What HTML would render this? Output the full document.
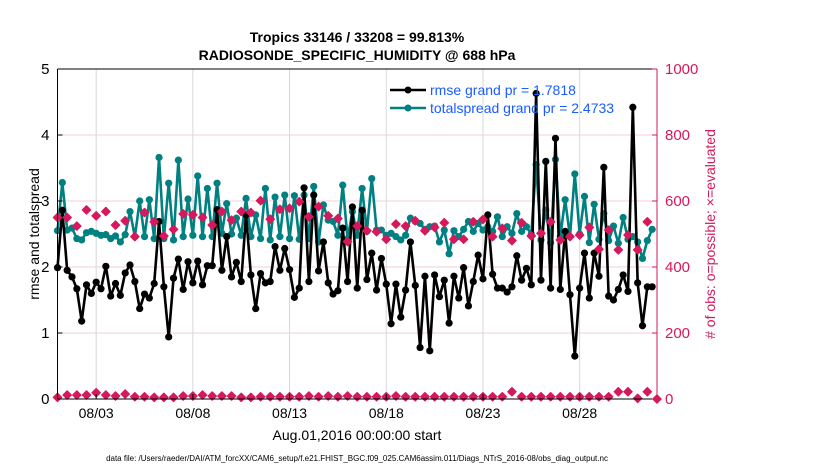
<!DOCTYPE html>
<html><head><meta charset="utf-8"><style>
html,body{margin:0;padding:0;background:#fff;}
svg{display:block;font-family:"Liberation Sans",Arial,sans-serif;}
</style></head><body>
<svg id="chart" width="830" height="470" viewBox="0 0 830 470" xmlns="http://www.w3.org/2000/svg">
<text x="357" y="42" text-anchor="middle" font-size="14" font-weight="bold">Tropics 33146 / 33208 = 99.813%</text>
<text x="357" y="60" text-anchor="middle" font-size="14" font-weight="bold">RADIOSONDE_SPECIFIC_HUMIDITY @ 688 hPa</text>
<g id="grid"></g>
<g id="series"></g>
<g id="axes"></g>
<g>
<line x1="390" y1="90" x2="426" y2="90" stroke="#000" stroke-width="2.5"/><circle cx="408" cy="90" r="3.5" fill="#000"/>
<text x="430" y="95" font-size="14" fill="#1a5cff">rmse grand pr = 1.7818</text>
<line x1="390" y1="108" x2="426" y2="108" stroke="#008080" stroke-width="2.5"/><circle cx="408" cy="108" r="3.5" fill="#008080"/>
<text x="430" y="113" font-size="14" fill="#1a5cff">totalspread grand pr = 2.4733</text>
</g>
<text transform="translate(39,234) rotate(-90)" text-anchor="middle" font-size="14">rmse and totalspread</text>
<text transform="translate(715,234) rotate(-90)" text-anchor="middle" font-size="14" fill="#d6185c"># of obs: o=possible; ×=evaluated</text>
<text x="357" y="440" text-anchor="middle" font-size="14">Aug.01,2016 00:00:00 start</text>
<text x="357" y="461" text-anchor="middle" font-size="8">data file: /Users/raeder/DAI/ATM_forcXX/CAM6_setup/f.e21.FHIST_BGC.f09_025.CAM6assim.011/Diags_NTrS_2016-08/obs_diag_output.nc</text>
</svg>
<script>
const rmse=[1.99,2.86,1.95,1.85,1.67,1.18,1.73,1.60,1.77,1.67,2.01,1.56,1.75,1.57,1.91,2.03,1.78,1.37,1.59,1.53,1.75,2.69,1.70,0.94,1.83,2.12,1.66,2.08,1.76,2.09,1.73,2.02,2.02,2.87,1.95,2.46,1.85,2.07,1.78,2.79,1.88,1.37,
1.90,1.76,1.78,2.31,1.95,2.28,1.96,1.54,1.68,3.20,1.78,3.09,1.94,2.38,1.76,1.59,1.64,2.59,1.78,2.91,1.68,2.86,1.81,2.21,1.65,2.13,1.74,1.14,1.74,1.24,1.65,2.38,1.72,0.78,1.86,0.73,1.88,1.55,1.80,1.15,1.86,1.53,
1.99,1.41,1.78,2.18,1.82,2.79,1.89,1.68,1.68,1.62,1.70,2.17,1.80,1.98,1.73,4.63,1.80,3.60,1.68,3.95,1.66,2.54,1.58,0.65,1.68,2.21,1.53,2.21,1.86,3.51,1.56,1.50,1.66,1.88,1.63,4.42,1.76,1.11,1.70,1.70];
const spread=[2.55,3.28,2.56,2.59,2.43,2.41,2.52,2.54,2.51,2.48,2.49,2.43,2.47,2.38,2.49,2.84,2.46,3.00,2.46,3.02,2.43,3.66,2.43,3.27,2.41,3.62,2.46,3.03,2.48,3.38,2.46,3.19,2.46,3.27,2.51,2.96,2.50,2.74,2.48,3.04,2.46,2.79,
2.43,3.19,2.41,3.06,2.46,3.09,2.43,3.08,2.42,3.09,2.43,3.22,2.38,2.94,2.71,2.69,2.48,3.24,2.43,2.84,2.48,3.19,2.54,3.34,2.56,2.56,2.48,2.51,2.46,2.41,2.48,2.74,2.69,2.66,2.57,2.61,2.62,2.38,2.56,2.20,2.55,2.46,
2.57,2.69,2.54,2.66,2.56,2.61,2.54,2.76,2.46,2.61,2.51,2.81,2.54,2.61,2.50,3.55,2.41,2.86,2.37,3.63,2.46,3.02,2.46,3.41,2.50,3.07,2.37,2.95,2.42,2.81,2.40,2.62,2.36,2.75,2.42,2.46,2.38,2.13,2.40,2.57];
const obsPossible=[550,550,524,573,555,568,527,540,492,565,537,494,514,561,558,550,527,568,542,568,565,
601,545,575,578,598,552,583,555,547,477,524,510,507,484,530,524,540,510,520,534,484,
484,537,544,492,517,480,534,494,502,537,482,492,497,520,454,512,452,497,452,537];
const obsEvaluated=[5,12,12,12,19,12,9,15,7,7,5,5,5,9,9,12,9,9,9,5,5,
7,7,7,7,7,9,7,9,7,9,7,7,7,7,9,7,7,7,7,7,7,
7,7,7,7,7,22,7,7,7,7,7,7,7,7,7,7,22,22,2,22,0];
const xTicks=[2,7,12,17,22,27];
const xTickLabels=['08/03','08/08','08/13','08/18','08/23','08/28'];
const yTicks=[0,1,2,3,4,5];
const yRightTicks=[0,200,400,600,800,1000];

const L=57.5,R=657,T=69,B=399;
const xs=d=>L+(R-L)*d/31;
const yl=v=>B-(B-T)*v/5;
const yr=v=>B-(B-T)*v/1000;
const NS='http://www.w3.org/2000/svg';
function mk(tag,parent,attrs){const e=document.createElementNS(NS,tag);for(const k in attrs)e.setAttribute(k,attrs[k]);parent.appendChild(e);return e;}
const grid=document.getElementById('grid'),ser=document.getElementById('series'),ax=document.getElementById('axes');
mk('rect',grid,{x:L,y:T,width:R-L,height:B-T,fill:'#fff'});
xTicks.forEach(d=>{const g=mk('line',grid,{x1:xs(d),x2:xs(d),y1:T,y2:B,stroke:'#d8d8d8','stroke-width':1});

});
yRightTicks.slice(1,5).forEach(v=>{const g=mk('line',grid,{x1:L,x2:R,y1:yr(v),y2:yr(v),stroke:'#f0d0dc','stroke-width':1});

});
function series(arr,step,color,name,yf,marker){
  const pts=arr.map((v,i)=>[xs(i*step),yf(v)]);
  if(!marker){const p=mk('polyline',ser,{points:pts.map(p=>p.join(',')).join(' '),fill:'none',stroke:color,'stroke-width':2.6,'stroke-linejoin':'round'});
  
  }
  pts.forEach(p=>{let m;
    if(marker){m=mk('path',ser,{d:`M${p[0]},${p[1]-4.2}L${p[0]+4.2},${p[1]}L${p[0]},${p[1]+4.2}L${p[0]-4.2},${p[1]}Z`,fill:color,stroke:color,'stroke-width':1.2,'stroke-linejoin':'round'});}
    else{m=mk('circle',ser,{cx:p[0],cy:p[1],r:3.6,fill:color});}
    
    });
}
series(obsEvaluated,0.5,'#d6185c','obs-evaluated',yr,true);
series(spread,0.25,'#008080','totalspread',yl,false);
series(rmse,0.25,'#000','rmse',yl,false);
series(obsPossible,0.5,'#d6185c','obs-possible',yr,true);
mk('line',ax,{x1:L,x2:L,y1:T,y2:B,stroke:'#000','stroke-width':1});
mk('line',ax,{x1:L,x2:R,y1:B,y2:B,stroke:'#000','stroke-width':1});
mk('line',ax,{x1:L,x2:R,y1:T,y2:T,stroke:'#000','stroke-width':1});
mk('line',ax,{x1:R,x2:R,y1:T,y2:B,stroke:'#d6185c','stroke-width':1});
xTicks.forEach((d,i)=>{mk('line',ax,{x1:xs(d),x2:xs(d),y1:B,y2:B-5,stroke:'#000'});
 const t=mk('text',ax,{x:xs(d),y:B+19,'text-anchor':'middle','font-size':14});t.textContent=xTickLabels[i];
 
 });
yTicks.forEach(v=>{mk('line',ax,{x1:L,x2:L+5,y1:yl(v),y2:yl(v),stroke:'#000'});
 const t=mk('text',ax,{x:L-8,y:yl(v)+5,'text-anchor':'end','font-size':15});t.textContent=v;
 
 });
yRightTicks.forEach(v=>{mk('line',ax,{x1:R,x2:R-5,y1:yr(v),y2:yr(v),stroke:'#d6185c'});
 const t=mk('text',ax,{x:R+8,y:yr(v)+5,'text-anchor':'start','font-size':15,fill:'#d6185c'});t.textContent=v;
 
 });
</script>
</body></html>
